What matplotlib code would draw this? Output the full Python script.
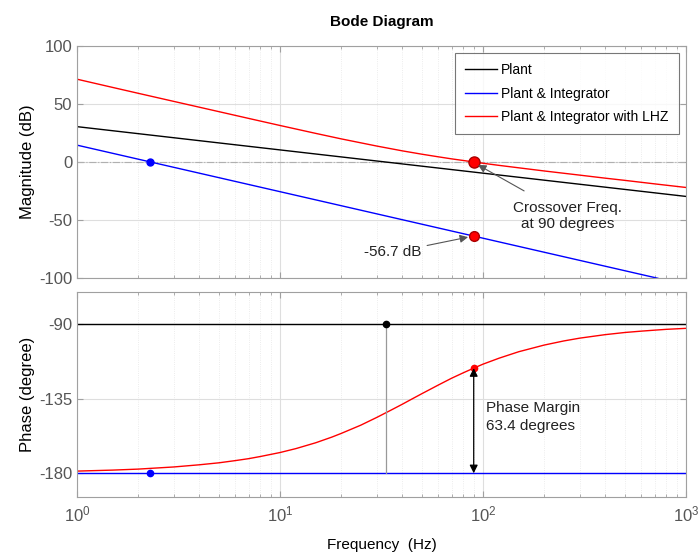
import matplotlib
matplotlib.use("Agg")
import matplotlib.pyplot as plt
from matplotlib.ticker import LogLocator, NullFormatter

plt.rcParams['font.family'] = ['Liberation Sans', 'DejaVu Sans']
plt.rcParams['axes.unicode_minus'] = False

# ---- data ----
freq_lines = [1, 1000]
plant_mag = [30.4, -29.6]
plant_phase = [-90, -90]

integ_freq = [1, 727]
integ_mag = [14.5, -100.0]
integ_phase_f = [1, 1000]
integ_phase = [-180, -180]

lhz_freq = [1, 1.5, 2, 3, 5, 7, 10, 15, 20, 30, 40, 50, 60, 70, 80, 90, 100, 120,
            150, 200, 300, 400, 500, 700, 1000]
lhz_mag = [71.2, 64.1, 59.1, 52.1, 43.3, 37.5, 31.4, 24.6, 19.9, 13.7, 9.6, 6.7, 4.5,
           2.7, 1.3, 0.0, -1.1, -2.9, -5.0, -7.7, -11.3, -13.9, -15.8, -18.8, -21.9]

lhz_pf = [1, 1.5, 2, 3, 4, 5, 6, 7, 8, 10, 12, 15, 18, 20, 25, 30, 35, 40, 45, 50, 60,
          70, 80, 90, 100, 120, 150, 200, 250, 300, 400, 500, 600, 700, 800, 1000]
lhz_phase = [-178.7, -178.1, -177.5, -176.2, -174.9, -173.7, -172.4, -171.2, -169.9,
             -167.5, -165.1, -161.6, -158.2, -156.0, -151.0, -146.3, -142.1, -138.4,
             -135.0, -132.0, -126.9, -122.7, -119.4, -116.6, -114.2, -110.6, -106.7,
             -102.7, -100.2, -98.5, -96.4, -95.1, -94.3, -93.7, -93.2, -92.6]

f_integ_cross = 2.3
f_plant_cross = 33.3
f_cross = 90.0
mag_integ_at_cross = -63.7
phase_at_cross = -116.6

legend_labels = ['Plant', 'Plant & Integrator', 'Plant & Integrator with LHZ']

W, H = 698, 554
fig = plt.figure(figsize=(W / 100, H / 100), dpi=100)

def rect(x0, y0, x1, y1):
    return [x0 / W, 1 - y1 / H, (x1 - x0) / W, (y1 - y0) / H]

ax1 = fig.add_axes(rect(77, 45.7, 686, 278.3))
ax2 = fig.add_axes(rect(77, 291.7, 686, 497.3), sharex=ax1)

tick_color = '#555555'
for ax in (ax1, ax2):
    ax.set_xscale('log')
    ax.set_xlim(1, 1000)
    ax.grid(True, which='major', color='#dedede', linewidth=0.8)
    ax.grid(True, which='minor', color='#e6e6e6', linewidth=0.6, linestyle=':')
    ax.set_axisbelow(True)
    for s in ax.spines.values():
        s.set_color('#a0a0a0')
        s.set_linewidth(0.8)
    ax.tick_params(which='both', direction='in', colors='#a0a0a0', labelcolor=tick_color,
                   labelsize=12, top=True, right=True)
    ax.tick_params(which='major', length=4)
    ax.tick_params(which='minor', length=2)
    ax.xaxis.set_minor_locator(LogLocator(base=10, subs=range(2, 10), numticks=20))
    ax.xaxis.set_minor_formatter(NullFormatter())

# ---- magnitude ----
ax1.axhline(0, color='#b0b0b0', linestyle='-.', linewidth=0.8)
l1, = ax1.plot(freq_lines, plant_mag, color='black', linewidth=1.0)
l2, = ax1.plot(integ_freq, integ_mag, color='#0000ff', linewidth=1.0)
l3, = ax1.plot(lhz_freq, lhz_mag, color='#ff0000', linewidth=1.0)
ax1.plot([f_integ_cross], [0], 'o', color='#0000ff', markersize=5)
ax1.plot([f_cross], [0], 'o', color='#ff0000', markeredgecolor='#aa0000', markersize=8)
ax1.plot([f_cross], [mag_integ_at_cross], 'o', color='#ff0000', markeredgecolor='#aa0000', markersize=7)
ax1.set_ylim(-100, 100)
ax1.set_yticks([-100, -50, 0, 50, 100])
ax1.tick_params(axis='x', labelbottom=False)
ax1.set_ylabel('Magnitude (dB)', fontsize=12, color='black', labelpad=3)
ax1.set_title('Bode Diagram', fontsize=11, fontweight='bold', pad=14)

ax1.annotate('Crossover Freq.\nat 90 degrees', xy=(94.5, -2.5), xytext=(262, -46.1),
             ha='center', va='center', fontsize=11, color='#222222',
             arrowprops=dict(arrowstyle='-|>', color='#555555', lw=0.8,
                             shrinkA=10, shrinkB=0, mutation_scale=12))
ax1.annotate('-56.7 dB', xy=(84.4, -64.6), xytext=(36, -77.8),
             ha='center', va='center', fontsize=11, color='#222222',
             arrowprops=dict(arrowstyle='-|>', color='#555555', lw=0.8,
                             shrinkA=2, shrinkB=0, mutation_scale=12))

leg = ax1.legend([l1, l2, l3], legend_labels, loc='upper right', fontsize=10,
                 frameon=True, fancybox=False, borderaxespad=0.5, handlelength=2.3,
                 handletextpad=0.3, labelspacing=0.68, borderpad=0.75)
leg.get_frame().set_edgecolor('#555555')
leg.get_frame().set_linewidth(0.8)

# ---- phase ----
ax2.plot(freq_lines, plant_phase, color='black', linewidth=1.0)
ax2.plot(integ_phase_f, integ_phase, color='#0000ff', linewidth=1.0)
ax2.plot(lhz_pf, lhz_phase, color='#ff0000', linewidth=1.0)
ax2.plot([f_plant_cross, f_plant_cross], [-90, -180], color='#999999', linewidth=0.9)
ax2.plot([f_plant_cross], [-90], 'o', color='black', markersize=4.5)
ax2.plot([f_integ_cross], [-180], 'o', color='#0000ff', markersize=4.5)
ax2.plot([f_cross], [phase_at_cross], 'o', color='#ff0000', markersize=4.5)
ax2.annotate('', xy=(f_cross, phase_at_cross), xytext=(f_cross, -180),
             arrowprops=dict(arrowstyle='<|-|>', color='black', lw=0.9,
                             shrinkA=0, shrinkB=0, mutation_scale=12))
ax2.text(104, -146, 'Phase Margin\n63.4 degrees', ha='left', va='center',
         fontsize=11, color='#222222', linespacing=1.4)
ax2.set_ylim(-194.5, -70.5)
ax2.set_yticks([-180, -135, -90])
ax2.set_ylabel('Phase (degree)', fontsize=12, color='black', labelpad=3)
ax2.set_xlabel('Frequency  (Hz)', fontsize=11, color='black', labelpad=10)
ax2.set_xticks([1, 10, 100, 1000])
ax2.tick_params(axis='x', labelsize=12, pad=5)

fig.savefig('out.png', dpi=100)
